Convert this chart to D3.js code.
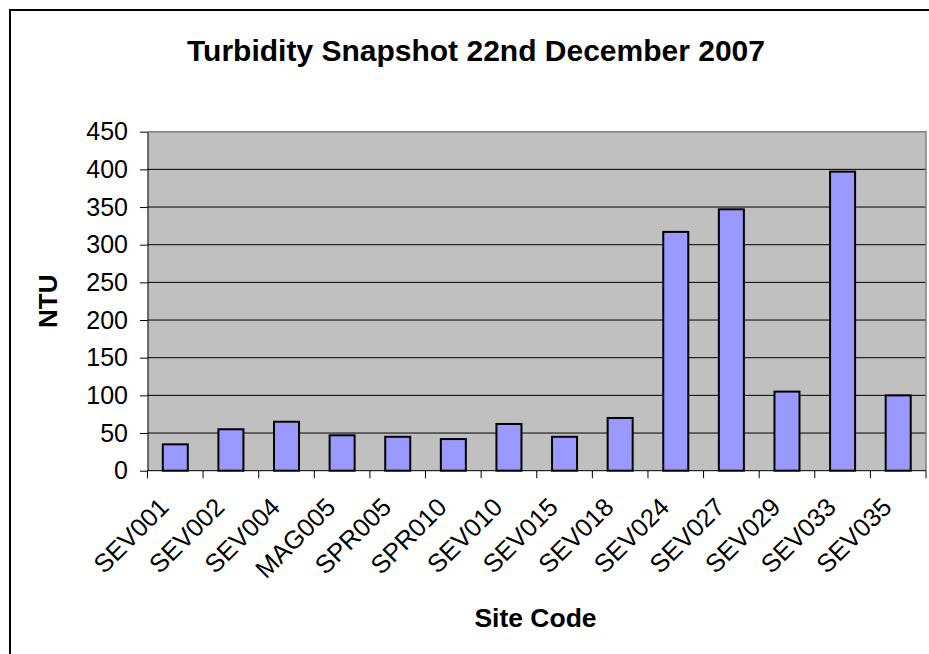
<!DOCTYPE html>
<html>
<head>
<meta charset="utf-8">
<script src="https://cdn.jsdelivr.net/npm/d3@7"></script>
<style>
  html, body { margin: 0; padding: 0; background: #fff; }
  svg { display: block; font-family: "Liberation Sans", Arial, sans-serif; }
</style>
</head>
<body>
<svg id="chart" width="929" height="654"></svg>
<script>
const categories = ["SEV001","SEV002","SEV004","MAG005","SPR005","SPR010","SEV010","SEV015","SEV018","SEV024","SEV027","SEV029","SEV033","SEV035"];
const values = [35, 55, 65, 47, 45, 42, 62, 45, 70, 317, 347, 105, 397, 100];
const yTicks = [0, 50, 100, 150, 200, 250, 300, 350, 400, 450];
const title = "Turbidity Snapshot 22nd December 2007";
const xTitle = "Site Code";
const yTitle = "NTU";

const svg = d3.select("#chart");
const plot = { left: 147.5, right: 926, top: 131.7, bottom: 470.7 };

// outer chart border (only left and top are inside the picture)
svg.append("path")
  .attr("d", "M10,660V10H935")
  .attr("fill", "none").attr("stroke", "#000").attr("stroke-width", 2);

const x = d3.scaleBand().domain(categories)
  .range([plot.left, plot.right])
  .paddingInner(0.55).paddingOuter(0.275);
const y = d3.scaleLinear().domain([0, 450]).range([plot.bottom, plot.top]);

// plot background
svg.append("rect")
  .attr("x", plot.left).attr("y", plot.top)
  .attr("width", plot.right - plot.left).attr("height", plot.bottom - plot.top)
  .attr("fill", "#C0C0C0");

// gridlines
svg.append("g").selectAll("line")
  .data(yTicks.filter(d => d > 0 && d < 450))
  .join("line")
  .attr("x1", plot.left).attr("x2", plot.right)
  .attr("y1", d => y(d)).attr("y2", d => y(d))
  .attr("stroke", "#000").attr("stroke-width", 1);

// plot border top & right (gray)
svg.append("path")
  .attr("d", `M${plot.left},${y(450)}H${plot.right}V${plot.bottom}`)
  .attr("fill", "none").attr("stroke", "#808080").attr("stroke-width", 1.5);

// bars
svg.append("g").selectAll("rect")
  .data(values)
  .join("rect")
  .attr("x", (d, i) => x(categories[i]))
  .attr("y", d => y(d))
  .attr("width", x.bandwidth())
  .attr("height", d => y(0) - y(d))
  .attr("fill", "#9999FF")
  .attr("stroke", "#000").attr("stroke-width", 2);

// y axis
const yAxis = d3.axisLeft(y).tickValues(yTicks).tickSize(7.5).tickPadding(12).tickSizeOuter(0);
const gy = svg.append("g").attr("transform", `translate(${plot.left},0)`).call(yAxis);
gy.select(".domain").attr("stroke", "#000").attr("stroke-width", 1);
gy.selectAll(".tick line").attr("stroke", "#000");
gy.selectAll(".tick text")
  .attr("font-size", 25).attr("fill", "#000")
  .style("font-family", '"Liberation Sans", Arial, sans-serif');

// x axis baseline and ticks at category boundaries
const step = x.step();
const boundaries = d3.range(categories.length + 1).map(i => plot.left + i * step);
svg.append("line")
  .attr("x1", plot.left).attr("x2", plot.right)
  .attr("y1", plot.bottom).attr("y2", plot.bottom)
  .attr("stroke", "#000").attr("stroke-width", 1);
svg.append("g").selectAll("line")
  .data(boundaries)
  .join("line")
  .attr("x1", d => d).attr("x2", d => d)
  .attr("y1", plot.bottom).attr("y2", plot.bottom + 7.5)
  .attr("stroke", "#000").attr("stroke-width", 1);

// x labels rotated
svg.append("g").selectAll("text")
  .data(categories)
  .join("text")
  .attr("transform", d => `translate(${x(d) + x.bandwidth() / 2 - 5},${plot.bottom + 38}) rotate(-45)`)
  .attr("text-anchor", "end")
  .attr("font-size", 25.5)
  .attr("fill", "#000")
  .text(d => d);

// title
svg.append("text")
  .attr("x", 476).attr("y", 60.7)
  .attr("text-anchor", "middle")
  .attr("font-size", 30).attr("font-weight", "bold")
  .text(title);

// x title
svg.append("text")
  .attr("x", 535.5).attr("y", 626.7)
  .attr("text-anchor", "middle")
  .attr("font-size", 26.5).attr("font-weight", "bold")
  .text(xTitle);

// y title
svg.append("text")
  .attr("transform", `translate(57,${(plot.top + plot.bottom) / 2}) rotate(-90)`)
  .attr("text-anchor", "middle")
  .attr("font-size", 26).attr("font-weight", "bold")
  .text(yTitle);
</script>
</body>
</html>
